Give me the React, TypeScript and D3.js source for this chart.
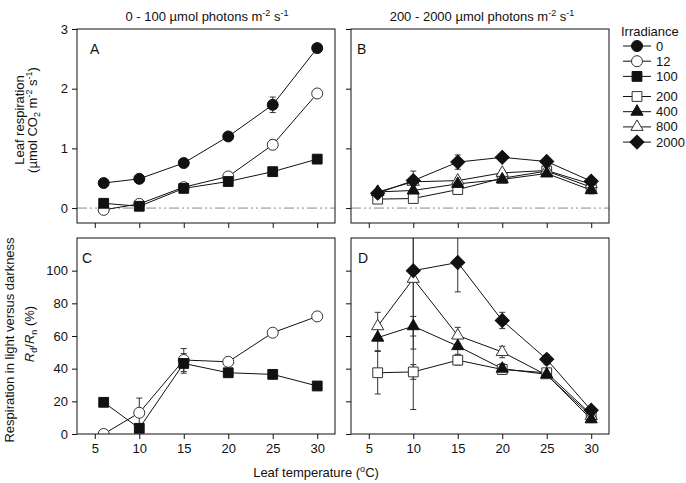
import { useEffect, useRef } from "react";
import * as d3 from "d3";

const FONT = "'Liberation Sans', Arial, sans-serif";
const INK = "#111";

const TEMPS = [6, 10, 15, 20, 25, 30];
const X_TICKS = [5, 10, 15, 20, 25, 30];
const RESP_TICKS = [0, 1, 2, 3];
const RATIO_TICKS = [0, 20, 40, 60, 80, 100];

// panel A: leaf respiration at 0-100 umol photons
const RESP_0 = [0.42, 0.49, 0.755, 1.2, 1.73, 2.68];
const RESP_0_SE = [0.02, 0.02, 0.03, 0.03, 0.13, 0.05];
const RESP_12 = [-0.03, 0.07, 0.35, 0.53, 1.06, 1.92];
const RESP_12_SE = [0.02, 0.02, 0.02, 0.03, 0.08, 0.04];
const RESP_100 = [0.08, 0.03, 0.33, 0.445, 0.61, 0.82];
const RESP_100_SE = [0.02, 0.02, 0.02, 0.02, 0.02, 0.02];

// panel B: leaf respiration at 200-2000 umol photons
const RESP_200 = [0.15, 0.16, 0.31, 0.5, 0.62, 0.35];
const RESP_200_SE = [0.03, 0.06, 0.04, 0.03, 0.03, 0.05];
const RESP_400 = [0.27, 0.295, 0.405, 0.48, 0.58, 0.3];
const RESP_400_SE = [0.02, 0.03, 0.03, 0.03, 0.03, 0.06];
const RESP_800 = [0.27, 0.44, 0.46, 0.59, 0.63, 0.4];
const RESP_800_SE = [0.02, 0.04, 0.05, 0.04, 0.03, 0.05];
const RESP_2000 = [0.25, 0.46, 0.77, 0.85, 0.78, 0.45];
const RESP_2000_SE = [0.02, 0.16, 0.12, 0.05, 0.04, 0.06];

// panel C: Rd/Rn (%) at 12 and 100
const RATIO_12 = [0, 13, 45.3, 44.2, 62, 72];
const RATIO_12_SE = [1, 9, 7, 2, 2, 2];
const RATIO_100 = [19.4, 3.5, 43.2, 37.5, 36.5, 29.4];
const RATIO_100_SE = [1, 1, 6, 2, 2, 1];

// panel D: Rd/Rn (%) at 200-2000
const RATIO_200 = [37.5, 38, 45.2, 39.5, 37.5, 12];
const RATIO_200_SE = [13, 4.5, 3, 3, 2, 2];
const RATIO_400 = [59, 66, 53.8, 40, 36.5, 9];
const RATIO_400_SE = [8, 6, 5, 3, 2, 2];
const RATIO_800 = [66, 95, 60.3, 50.2, 36, 11];
const RATIO_800_SE = [8.5, 80, 5, 3.5, 2, 2];
const RATIO_2000 = [null, 100, 105, 69.5, 45.7, 14.5];
const RATIO_2000_SE = [0, 48, 18, 5, 3, 2];

const LEGEND = [
  { label: "0", kind: "circle" },
  { label: "12", kind: "circleOpen" },
  { label: "100", kind: "square" },
  { label: "200", kind: "squareOpen" },
  { label: "400", kind: "triangle" },
  { label: "800", kind: "triangleOpen" },
  { label: "2000", kind: "diamond" },
];

type Series = { kind: string; values: (number | null)[]; se: number[] };

const SYMBOLS: Record<string, [d3.SymbolType, number]> = {
  circle: [d3.symbolCircle, 95],
  square: [d3.symbolSquare, 96],
  triangle: [d3.symbolTriangle, 64],
  diamond: [d3.symbolSquare, 98],
};

function Marker({ kind, x, y }: { kind: string; x: number; y: number }) {
  const open = kind.endsWith("Open");
  const shape = kind.replace("Open", "");
  const [type, size] = SYMBOLS[shape];
  const path = d3.symbol(type, size)() || "";
  const rot = shape === "diamond" ? " rotate(45)" : "";
  return (
    <path
      d={path}
      transform={`translate(${x},${y})${rot}`}
      fill={open ? "#fff" : INK}
      stroke={open ? "#333" : INK}
      strokeWidth={1}
    />
  );
}

function Axis({ scale, orient, ticks, labels, transform }: any) {
  const ref = useRef<SVGGElement>(null);
  useEffect(() => {
    const axis = (orient === "left" ? d3.axisLeft(scale) : d3.axisBottom(scale))
      .tickValues(ticks)
      .tickSize(5)
      .tickSizeOuter(0)
      .tickPadding(orient === "left" ? 4 : 5)
      .tickFormat(labels ? (d: any) => String(d) : () => "");
    const g = d3.select(ref.current!).call(axis as any);
    g.select(".domain").remove();
    g.selectAll("text").attr("font-size", 13).attr("font-family", FONT).attr("fill", INK);
    g.selectAll("line").attr("stroke", INK);
  }, [scale, orient, ticks, labels]);
  return <g ref={ref} transform={transform} />;
}

function Panel({ id, x0, y0, w, h, domain, yTicks, xLabels, yLabels, series, letter, letterDx, zeroLine }: any) {
  const x = d3.scaleLinear().domain([3, 32]).range([x0, x0 + w]);
  const y = d3.scaleLinear().domain(domain).range([y0 + h, y0]);
  const line = d3
    .line<number | null>()
    .defined((d) => d != null)
    .x((_, i) => x(TEMPS[i]))
    .y((d) => y(d as number));

  return (
    <g>
      <defs>
        <clipPath id={id}>
          <rect x={x0} y={y0} width={w} height={h} />
        </clipPath>
      </defs>
      {zeroLine && (
        <line x1={x0} x2={x0 + w} y1={y(0)} y2={y(0)} stroke="#888" strokeWidth={1} strokeDasharray="10 3 2 3 2 3" />
      )}
      <g clipPath={`url(#${id})`}>
        {series.map((s: Series, k: number) => (
          <path key={"l" + k} d={line(s.values) || ""} fill="none" stroke={INK} strokeWidth={1} />
        ))}
        {series.map((s: Series, k: number) =>
          s.values.map((v, i) => {
            if (v == null || !s.se[i]) return null;
            const cx = x(TEMPS[i]);
            const lo = y(v - s.se[i]);
            const hi = y(v + s.se[i]);
            return (
              <g key={`e${k}-${i}`} stroke="#333" strokeWidth={1}>
                <line x1={cx} x2={cx} y1={lo} y2={hi} />
                <line x1={cx - 3} x2={cx + 3} y1={lo} y2={lo} />
                <line x1={cx - 3} x2={cx + 3} y1={hi} y2={hi} />
              </g>
            );
          })
        )}
        {series.map((s: Series, k: number) =>
          s.values.map((v, i) =>
            v == null ? null : <Marker key={`m${k}-${i}`} kind={s.kind} x={x(TEMPS[i])} y={y(v)} />
          )
        )}
      </g>
      <rect x={x0} y={y0} width={w} height={h} fill="none" stroke={INK} strokeWidth={1} />
      <Axis scale={y} orient="left" ticks={yTicks} labels={yLabels} transform={`translate(${x0},0)`} />
      <Axis scale={x} orient="bottom" ticks={X_TICKS} labels={xLabels} transform={`translate(0,${y0 + h})`} />
      <text x={x0 + letterDx} y={y0 + 25} fontSize={14}>
        {letter}
      </text>
    </g>
  );
}

// superscript, then back to the baseline
const sup = (t: string) => [
  <tspan key="a" dy={-5} fontSize={9}>{t}</tspan>,
  <tspan key="b" dy={5} fontSize={13}>{" "}</tspan>,
];

export default function App() {
  const panelA: Series[] = [
    { kind: "circleOpen", values: RESP_12, se: RESP_12_SE },
    { kind: "square", values: RESP_100, se: RESP_100_SE },
    { kind: "circle", values: RESP_0, se: RESP_0_SE },
  ];
  const panelB: Series[] = [
    { kind: "squareOpen", values: RESP_200, se: RESP_200_SE },
    { kind: "triangleOpen", values: RESP_800, se: RESP_800_SE },
    { kind: "diamond", values: RESP_2000, se: RESP_2000_SE },
    { kind: "triangle", values: RESP_400, se: RESP_400_SE },
  ];
  const panelC: Series[] = [
    { kind: "circleOpen", values: RATIO_12, se: RATIO_12_SE },
    { kind: "square", values: RATIO_100, se: RATIO_100_SE },
  ];
  const panelD: Series[] = [
    { kind: "squareOpen", values: RATIO_200, se: RATIO_200_SE },
    { kind: "triangleOpen", values: RATIO_800, se: RATIO_800_SE },
    { kind: "diamond", values: RATIO_2000, se: RATIO_2000_SE },
    { kind: "triangle", values: RATIO_400, se: RATIO_400_SE },
  ];

  return (
    <svg
      width={686}
      height={483}
      style={{ position: "absolute", left: 0, top: 0, background: "#fff" }}
      fontFamily={FONT}
      fill={INK}
    >
      <text x={207} y={21} textAnchor="middle" fontSize={13}>
        0 - 100 µmol photons m{sup("-2")}s<tspan dy={-5} fontSize={9}>-1</tspan>
      </text>
      <text x={482} y={21} textAnchor="middle" fontSize={13}>
        200 - 2000 µmol photons m{sup("-2")}s<tspan dy={-5} fontSize={9}>-1</tspan>
      </text>

      <Panel id="cA" x0={77} y0={29} w={258} h={194} domain={[-0.25, 3]} yTicks={RESP_TICKS}
        xLabels={false} yLabels={true} series={panelA} letter="A" letterDx={13} zeroLine />
      <Panel id="cB" x0={351} y0={29} w={258} h={194} domain={[-0.25, 3]} yTicks={RESP_TICKS}
        xLabels={false} yLabels={false} series={panelB} letter="B" letterDx={6} zeroLine />
      <Panel id="cC" x0={77} y0={238} w={258} h={196} domain={[0, 120]} yTicks={RATIO_TICKS}
        xLabels={true} yLabels={true} series={panelC} letter="C" letterDx={5} zeroLine={false} />
      <Panel id="cD" x0={351} y0={238} w={258} h={196} domain={[0, 120]} yTicks={RATIO_TICKS}
        xLabels={true} yLabels={false} series={panelD} letter="D" letterDx={7} zeroLine={false} />

      <text transform="translate(24,120) rotate(-90)" textAnchor="middle" fontSize={13}>
        Leaf respiration
      </text>
      <text transform="translate(37,120) rotate(-90)" textAnchor="middle" fontSize={13}>
        (µmol CO<tspan dy={3} fontSize={9}>2</tspan>
        <tspan dy={-3}> m</tspan>
        {sup("-2")}s<tspan dy={-5} fontSize={9}>-1</tspan>
        <tspan dy={5}>)</tspan>
      </text>
      <text transform="translate(14,340) rotate(-90)" textAnchor="middle" fontSize={13}>
        Respiration in light versus darkness
      </text>
      <text transform="translate(34,334) rotate(-90)" textAnchor="middle" fontSize={13}>
        <tspan fontStyle="italic">R</tspan>
        <tspan dy={3} fontSize={9}>d</tspan>
        <tspan dy={-3}>/</tspan>
        <tspan fontStyle="italic">R</tspan>
        <tspan dy={3} fontSize={9}>n</tspan>
        <tspan dy={-3}> (%)</tspan>
      </text>
      <text x={316} y={477} textAnchor="middle" fontSize={13}>
        Leaf temperature (<tspan dy={-5} fontSize={9}>o</tspan>
        <tspan dy={5}>C)</tspan>
      </text>

      <text x={621} y={36} fontSize={13}>Irradiance</text>
      {LEGEND.map((d, i) => {
        const ly = i < 3 ? 46 + i * 15.2 : 96.5 + (i - 3) * 15.2;
        return (
          <g key={d.label}>
            <line x1={623} x2={651} y1={ly} y2={ly} stroke={INK} strokeWidth={1} />
            <Marker kind={d.kind} x={637} y={ly} />
            <text x={656} y={ly + 4.5} fontSize={13}>{d.label}</text>
          </g>
        );
      })}
    </svg>
  );
}
